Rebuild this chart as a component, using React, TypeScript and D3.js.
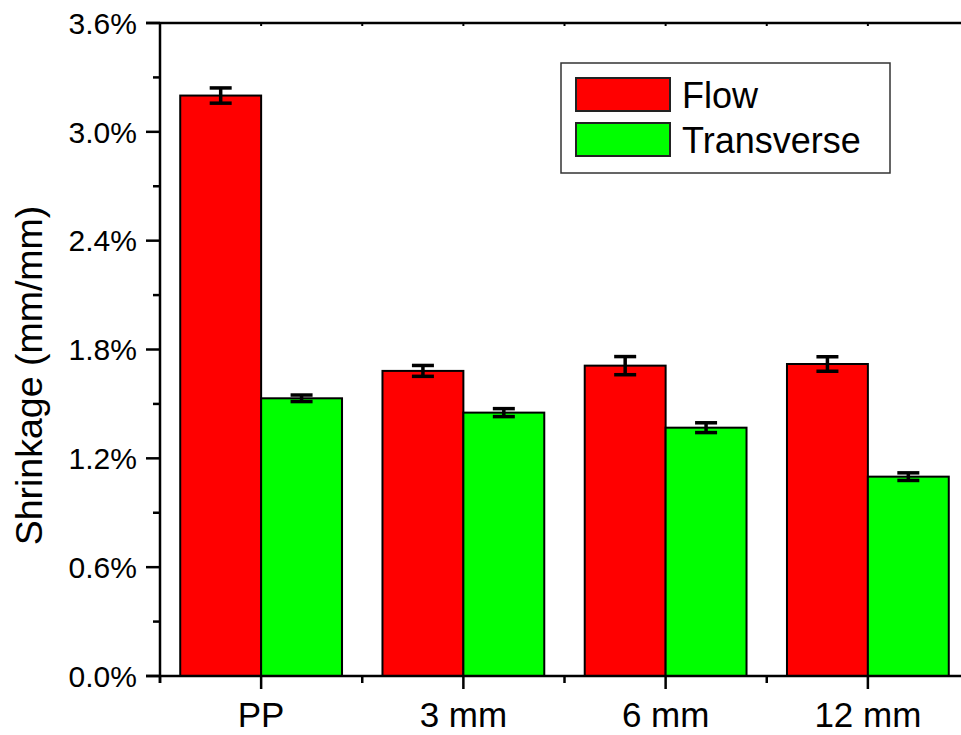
import React from 'react';
import * as d3 from 'd3';

// data (percent)
const categories = ['PP', '3 mm', '6 mm', '12 mm'];
const seriesNames = ['Flow', 'Transverse'];
const flowValues = [3.2, 1.682, 1.711, 1.72];
const flowErrors = [0.042, 0.03, 0.05, 0.04];
const transValues = [1.531, 1.452, 1.369, 1.099];
const transErrors = [0.018, 0.022, 0.027, 0.021];
const seriesColors = ['#ff0000', '#00ff00'];
const yTicks = [0, 0.6, 1.2, 1.8, 2.4, 3.0, 3.6];
const yMinorTicks = [0.3, 0.9, 1.5, 2.1, 2.7, 3.3];

const W = 961;
const H = 735;
const left = 160, right = 969, top = 23, bottom = 676;
const FONT = "Arial, 'Liberation Sans', sans-serif";

const App = () => {
    const x = d3.scaleBand<string>()
        .domain(categories)
        .range([left, right])
        .paddingInner(0.2)
        .paddingOuter(0.1);
    const xSub = d3.scaleBand<string>()
        .domain(seriesNames)
        .range([0, x.bandwidth()]);
    const y = d3.scaleLinear().domain([0, 3.6]).range([bottom, top]);
    const fmt = d3.format('.1f');

    const series = [
        {name: seriesNames[0], values: flowValues, errors: flowErrors, color: seriesColors[0]},
        {name: seriesNames[1], values: transValues, errors: transErrors, color: seriesColors[1]},
    ];

    const centers = categories.map(c => (x(c) as number) + x.bandwidth() / 2);
    const minorX = categories.map((c, i) => centers[i] - x.step() / 2);

    return (
        <svg width={W} height={H} style={{position: 'absolute', left: 0, top: 0}} fontFamily={FONT}>
            <rect width={W} height={H} fill="#fff"/>

            {/* bars */}
            {series.map(s => categories.map((c, i) => (
                <rect key={s.name + c}
                      x={(x(c) as number) + (xSub(s.name) as number)}
                      y={y(s.values[i])}
                      width={xSub.bandwidth()}
                      height={bottom - y(s.values[i])}
                      fill={s.color} stroke="#000" strokeWidth={2}/>
            )))}

            {/* error bars */}
            {series.map(s => categories.map((c, i) => {
                const cx = (x(c) as number) + (xSub(s.name) as number) + xSub.bandwidth() / 2;
                const y1 = y(s.values[i] + s.errors[i]);
                const y2 = y(s.values[i] - s.errors[i]);
                return (
                    <g key={'e' + s.name + c} stroke="#000" strokeWidth={3.5}>
                        <line x1={cx} x2={cx} y1={y1} y2={y2}/>
                        <line x1={cx - 11} x2={cx + 11} y1={y1} y2={y1}/>
                        <line x1={cx - 11} x2={cx + 11} y1={y2} y2={y2}/>
                    </g>
                );
            }))}

            {/* frame */}
            <g stroke="#000" strokeWidth={2.5}>
                <line x1={left} x2={left} y1={top} y2={bottom + 7}/>
                <line x1={left - 14} x2={W} y1={bottom} y2={bottom}/>
                <line x1={left - 14} x2={W} y1={top} y2={top}/>
            </g>

            {/* y axis */}
            {yTicks.map(t => (
                <g key={'yt' + t}>
                    <line x1={left - 14} x2={left} y1={y(t)} y2={y(t)} stroke="#000" strokeWidth={2.5}/>
                    <text x={137} y={y(t)} dy="0.36em" textAnchor="end" fontSize={30}>{fmt(t)}%</text>
                </g>
            ))}
            {yMinorTicks.map(t => (
                <line key={'ym' + t} x1={left - 7} x2={left} y1={y(t)} y2={y(t)} stroke="#000" strokeWidth={2.5}/>
            ))}

            {/* x axis */}
            {categories.map((c, i) => (
                <g key={'xt' + c}>
                    <line x1={centers[i]} x2={centers[i]} y1={bottom} y2={bottom + 13} stroke="#000" strokeWidth={2.5}/>
                    <line x1={centers[i]} x2={centers[i]} y1={top} y2={top + 3} stroke="#000" strokeWidth={2}/>
                    <text x={centers[i]} y={727} textAnchor="middle" fontSize={35}>{c}</text>
                </g>
            ))}
            {minorX.map((mx, i) => (
                <g key={'xm' + i}>
                    <line x1={mx} x2={mx} y1={bottom} y2={bottom + 7} stroke="#000" strokeWidth={2.5}/>
                    {i > 0 && <line x1={mx} x2={mx} y1={top} y2={top + 3} stroke="#000" strokeWidth={2}/>}
                </g>
            ))}

            {/* y title */}
            <text transform={`translate(42, ${(top + bottom) / 2 + 26}) rotate(-90)`}
                  textAnchor="middle" fontSize={37.5}>Shrinkage (mm/mm)</text>

            {/* legend */}
            <rect x={561} y={63} width={329} height={110} fill="#fff" stroke="#333" strokeWidth={1.5}/>
            {series.map((s, i) => (
                <g key={'lg' + s.name}>
                    <rect x={576} y={78 + i * 45} width={94} height={33} fill={s.color} stroke="#222" strokeWidth={2}/>
                    <text x={682} y={95 + i * 45} dy="0.36em" fontSize={36}>{s.name}</text>
                </g>
            ))}
        </svg>
    );
};

export default App;
